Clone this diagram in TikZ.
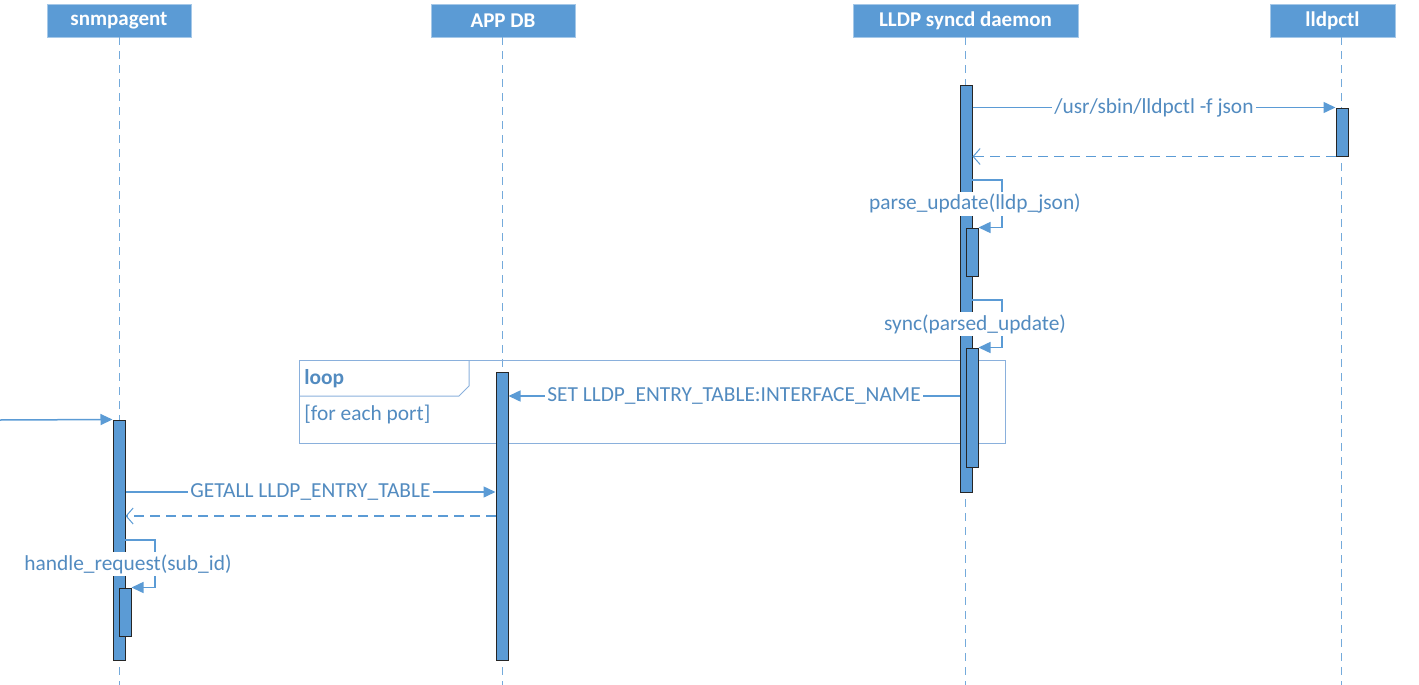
\documentclass[tikz,border=0pt]{standalone}
\usepackage{fontspec}
\setmainfont{Carlito}
\usetikzlibrary{arrows.meta}
\definecolor{umlblue}{HTML}{5B9BD5}
\definecolor{lineblue}{HTML}{5B9BD5}
\definecolor{frameblue}{HTML}{8AB0DC}

\begin{document}
\begin{tikzpicture}[x=0.5pt,y=-0.5pt,
	font=\fontsize{10.7}{12}\selectfont,
	head/.style={fill=umlblue, draw=umlblue!55!white, text=white, font=\fontsize{10.5}{12}\selectfont\bfseries, minimum width=72pt, minimum height=16.5pt, inner sep=0pt},
	life/.style={draw=umlblue!85, line width=0.45pt, dash pattern=on 4pt off 3pt},
	bar/.style={draw=black!85, fill=umlblue, line width=0.5pt, minimum width=6pt, inner sep=0pt},
	msg/.style={draw=lineblue, line width=0.75pt, -{Triangle[length=6pt,width=5.5pt]}},
	ret/.style={draw=lineblue, line width=0.6pt, dash pattern=on 5pt off 3pt, -{Straight Barb[length=3.5pt,width=8pt,line width=0.5pt]}},
	lbl/.style={fill=white, text=umlblue!90!black, inner sep=1pt},
	loopframe/.style={draw=frameblue, line width=0.5pt}]
	\useasboundingbox (0,0) rectangle (1419,685);
	
	% lifeline heads
	\node[head] (snmp) at (119,20.5) {snmpagent};
	\node[head] (appdb) at (503,20.5) {APP DB};
	\node[head, minimum width=112.5pt] (lldpd) at (965.5,20.5) {LLDP syncd daemon};
	\node[head, minimum width=62.5pt] (ctl) at (1332.5,20.5) {lldpctl};
	
	\coordinate (ctlx) at (1341,0);
	\coordinate (bottom) at (0,685);
	\draw[life] (snmp.south) -- (snmp.south |- bottom);
	\draw[life] (appdb.south -| 502,0) -- (502,685);
	\draw[life] (lldpd.south) -- (lldpd.south |- bottom);
	\draw[life] (ctl.south -| ctlx) -- (ctlx |- bottom);
	
	% loop frame
	\draw[loopframe] (299,360) rectangle (1005,443);
	\draw[loopframe] (299,396) -- (459,396) -- (469,386) -- (469,360);
	\node[anchor=west, inner sep=0pt, text=umlblue!90!black, font=\fontsize{10.7}{12}\selectfont\bfseries] (looplbl) at (304,379) {loop};
	\node[anchor=west, inner sep=0pt, text=umlblue!90!black] (guard) at (304,414) {[for each port]};
	
	% activation bars
	\node[bar, minimum height=203.5pt] (lldpact) at (966,288.5) {};
	\node[bar, minimum height=24pt] (ctlact) at (1342,132) {};
	\node[bar, minimum height=24pt] (parseact) at (972,252) {};
	\node[bar, minimum height=59.5pt] (syncact) at (972,407.5) {};
	\node[bar, minimum height=144pt] (dbact) at (502,516) {};
	\node[bar, minimum height=120pt] (snmpact) at (119,540) {};
	\node[bar, minimum height=24pt] (handact) at (125,612) {};
	
	% messages
	\draw[msg] (lldpact.east |- ctlact.north) -- node[lbl]{/usr/sbin/lldpctl -f json} (ctlact.north west);
	\draw[ret] (ctlact.south west) -- (lldpact.east |- ctlact.south);
	
	\coordinate (parsefrom) at (972,180);
	\draw[msg] (parsefrom) -- ++(30,0) |- (parseact.north east);
	\node[lbl] (parselbl) at (975,204) {parse\_update(lldp\_json)};
	
	\coordinate (syncfrom) at (972,300);
	\draw[msg] (syncfrom) -- ++(30,0) |- (syncact.north east);
	\node[lbl] (synclbl) at (975,324) {sync(parsed\_update)};
	
	\coordinate (setlev) at (0,396);
	\draw[msg] (lldpact.west |- setlev) -- node[lbl]{SET LLDP\_ENTRY\_TABLE:INTERFACE\_NAME} (dbact.east |- setlev);
	
	\coordinate (found) at (0,420);
	\draw[msg] (found) -- (snmpact.north west);
	
	\coordinate (getlev) at (0,492);
	\coordinate (retlev) at (0,516);
	\draw[msg] (snmpact.east |- getlev) -- node[lbl]{GETALL LLDP\_ENTRY\_TABLE} (dbact.west |- getlev);
	\draw[ret] (dbact.west |- retlev) -- (snmpact.east |- retlev);
	
	\coordinate (handfrom) at (125,540);
	\draw[msg] (handfrom) -- ++(30,0) |- (handact.north east);
	\node[lbl] (handlbl) at (128,564) {handle\_request(sub\_id)};
\end{tikzpicture}
\end{document}
